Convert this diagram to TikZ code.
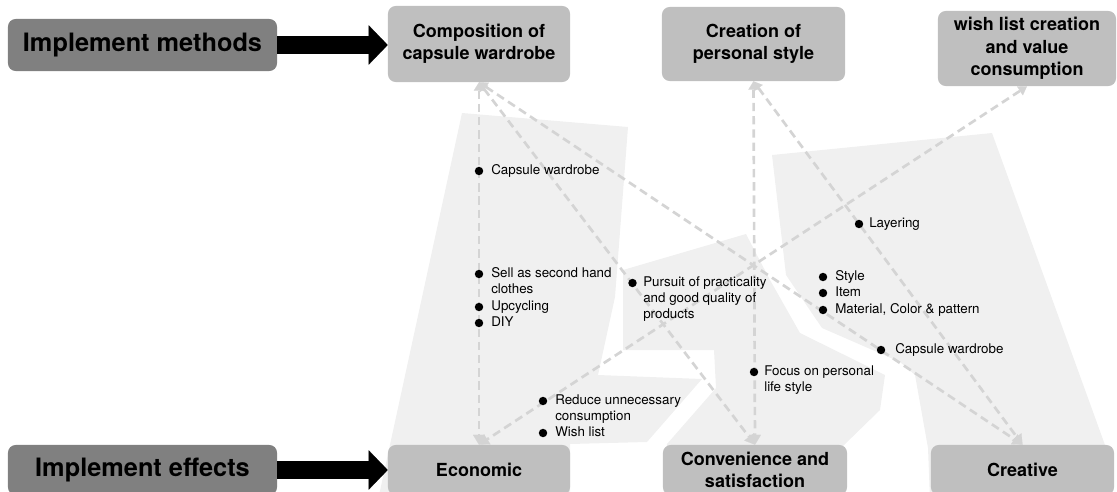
\documentclass[tikz,border=0pt]{standalone}
\usepackage{fontspec}
\setmainfont{TeX Gyre Heros}
\usetikzlibrary{arrows.meta}
\definecolor{darkbox}{RGB}{128,128,128}
\definecolor{lightbox}{RGB}{191,191,191}
\definecolor{bgpatch}{RGB}{240,240,240}
\definecolor{linkgray}{RGB}{212,212,212}

\begin{document}
\begin{tikzpicture}[x=0.025cm,y=-0.025cm]

    \tikzset{
      headbox/.style={
        fill=darkbox,
        rounded corners=5.5pt,
        inner sep=2pt,
        align=center,
        font=\bfseries\fontsize{18}{21}\selectfont,
      },
      catbox/.style={
        fill=lightbox,
        rounded corners=5.5pt,
        inner sep=2pt,
        align=center,
        font=\bfseries\fontsize{12.8}{16}\selectfont,
      },
      bigarrow/.style={
        line width=13pt,
        -{Triangle[length=13.5pt,width=28pt,line width=0.1pt]},
      },
      link/.style={
        draw=linkgray,
        line width=1.9pt,
        dash pattern=on 5.9pt off 3.5pt,
        arrows={Triangle[length=6pt,width=7.5pt,line width=0.1pt]-Triangle[length=7pt,width=8.5pt,line width=0.1pt]},
      },
      dot/.style={
        circle,
        fill=black,
        inner sep=0pt,
        minimum size=6pt,
      },
      item/.style={
        anchor=base west,
        inner sep=0pt,
        align=left,
        font=\fontsize{9.5}{11.3}\selectfont,
      },
    }
    \clip (0,0) rectangle (1117,492);
	\fill[bgpatch] (462,113)--(628,127)--(615,297)--(598,375)--(702,379)--(647,442)--(570,444)--(570,500)--(378,500)--cycle;
	\fill[bgpatch] (623,270)--(746,234)--(770,280)--(800,333)--(885,375)--(880,410)--(843,446)--(843,500)--(663,500)--(667,444)--(716,388)--(714,350)--(623,350)--cycle;
	\fill[bgpatch] (772,155)--(992,133)--(1105,445)--(1110,500)--(930,500)--(928,448)--(915,375)--(900,362)--(822,328)--(786,275)--cycle;

	\node[headbox, minimum width=6.725cm, minimum height=1.3cm] (meth) at (142.5,45) {Implement methods};
	\node[catbox, minimum width=4.55cm, minimum height=1.9cm] (comp) at (479,44) {Composition of\\capsule wardrobe};
	\node[catbox, minimum width=4.575cm, minimum height=1.85cm] (crea) at (753.5,44) {Creation of\\personal style};
	\node[catbox, minimum width=4.45cm, minimum height=1.875cm] (wish) at (1027,48.5) {wish list creation\\and value\\consumption};
	\node[headbox, minimum width=6.725cm, minimum height=1.25cm] (eff) at (142.5,470) {Implement effects};
	\node[catbox, minimum width=4.55cm, minimum height=1.25cm] (econ) at (479,470) {Economic};
	\node[catbox, minimum width=4.6cm, minimum height=1.25cm] (conv) at (755,470) {Convenience and\\satisfaction};
	\node[catbox, minimum width=4.575cm, minimum height=1.25cm] (creat) at (1022.5,470) {Creative};

	\draw[bigarrow] (meth.east) -- (meth.east -| comp.west);
	\draw[bigarrow] (eff.east) -- (eff.east -| econ.west);

	\draw[link] (comp.south) -- (econ.north);
	\draw[link] (comp.south) -- (conv.north);
	\draw[link] (comp.south) -- (creat.north);
	\draw[link] (crea.south) -- (conv.north);
	\draw[link] (crea.south) -- (creat.north);
	\draw[link] (wish.south) -- (econ.north);

	\node[dot] (dcapa) at (479,171) {};
	\node[item] (tcapa) at (491,174.5) {Capsule wardrobe};
	\node[dot] (dsell) at (479,274) {};
	\node[item] (tsell) at (491,293.5) {Sell as second hand\\clothes};
	\node[dot] (dupcy) at (479,307) {};
	\node[item] (tupcy) at (491,310.5) {Upcycling};
	\node[dot] (ddiy) at (479,323) {};
	\node[item] (tdiy) at (491,326.5) {DIY};
	\node[dot] (dpurs) at (632.5,283) {};
	\node[item] (tpurs) at (643,318.5) {Pursuit of practicality\\and good quality of\\products};
	\node[dot] (dredu) at (543,401) {};
	\node[item] (tredu) at (555,420.5) {Reduce unnecessary\\consumption};
	\node[dot] (dwish) at (543,433) {};
	\node[item] (twish) at (555,436.5) {Wish list};
	\node[dot] (dfocu) at (754,372) {};
	\node[item] (tfocu) at (764,391.5) {Focus on personal\\life style};
	\node[dot] (dlaye) at (859,224) {};
	\node[item] (tlaye) at (869,227.5) {Layering};
	\node[dot] (dstyl) at (823,277) {};
	\node[item] (tstyl) at (835,280.5) {Style};
	\node[dot] (ditem) at (823,293) {};
	\node[item] (titem) at (835,296.5) {Item};
	\node[dot] (dmate) at (823,310) {};
	\node[item] (tmate) at (835,313.5) {Material, Color \& pattern};
	\node[dot] (dcapb) at (881,350) {};
	\node[item] (tcapb) at (895,353.5) {Capsule wardrobe};

\end{tikzpicture}
\end{document}
